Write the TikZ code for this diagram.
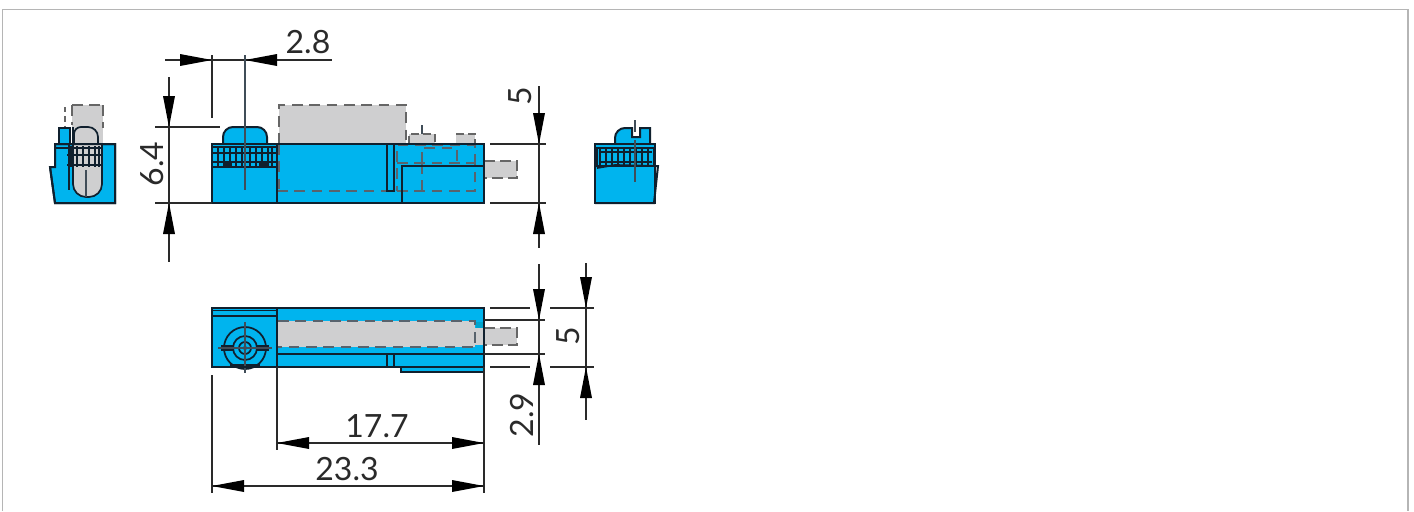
\documentclass[tikz,border=0pt]{standalone}
\usepackage{fontspec}
\setmainfont{Lato}
\definecolor{bodyblue}{HTML}{00B4EE}
\definecolor{ghost}{HTML}{CFCFD0}
\definecolor{ink}{HTML}{10202E}
\definecolor{dimink}{HTML}{2A2A2A}
\definecolor{framegray}{HTML}{B5B5B5}
\tikzset{
  body/.style={fill=bodyblue,draw=ink,line width=1.5pt,line join=miter},
  fine/.style={draw=ink,line width=0.9pt},
  part/.style={draw=ink,line width=1.3pt},
  hidden/.style={draw=ink!70!white,line width=1pt,dash pattern=on 8pt off 5pt},
  ghostfill/.style={fill=ghost,draw=none},
  ghostedge/.style={draw=black!60,line width=1.1pt,dash pattern=on 8pt off 5pt},
  dim/.style={draw=dimink,line width=0.95pt},
  center/.style={draw=ink!80!white,line width=0.85pt},
  tip/.style={fill=black,draw=none},
  dimtext/.style={font=\fontsize{24}{24}\selectfont,text=dimink,inner sep=0pt}
}
\newcommand{\tipdown}[2]{\fill[tip] (#1-6,#2-31) -- (#1+6,#2-31) -- (#1,#2) -- cycle;}
\newcommand{\tipup}[2]{\fill[tip] (#1-6,#2+31) -- (#1+6,#2+31) -- (#1,#2) -- cycle;}
\newcommand{\tipright}[2]{\fill[tip] (#1-32,#2-6) -- (#1-32,#2+6) -- (#1,#2) -- cycle;}
\newcommand{\tipleft}[2]{\fill[tip] (#1+32,#2-6) -- (#1+32,#2+6) -- (#1,#2) -- cycle;}
\begin{document}
\begin{tikzpicture}[x=0.75pt,y=-0.75pt]
\useasboundingbox (0,0) rectangle (1414,511);
\fill[white] (0,0) rectangle (1414,511);
% frame
\draw[framegray,line width=0.9pt] (2.5,511) -- (2.5,9.5) -- (1408,9.5) -- (1408,511);

% ----- left end view
\fill[ghostfill] (72,105) rectangle (103,144);
\draw[ghostedge] (72,105) -- (103,105);
\draw[ghostedge] (103,105) -- (103,128);
\draw[ghostedge] (72,105) -- (72,125);
\draw[ghostedge,dash pattern=on 4pt off 3pt] (65,107) -- (65,126);
\draw[body] (55,144) -- (115,144) -- (115,203) -- (55,203) -- (50,167) -- (55,167) -- cycle;
\draw[body] (59,144) -- (59,128) -- (70,128) -- (70,144);
\fill[ghostfill] (73,145) -- (102,145) -- (102,184) arc (0:90:13) -- (86,197) arc (90:180:13) -- cycle;
\draw[part] (73,127) -- (73,184) arc (180:90:13) -- (89,197) arc (90:0:13) -- (102,144);
\draw[part] (74,144) -- (74,134) arc (180:270:7) -- (88,127) arc (-90:0:10) -- (98,144);
\draw[part] (67,148) -- (102,148);
\draw[part] (67,155) -- (102,155);
\draw[part] (67,165) -- (102,165);
\foreach \xx in {71,77,83,89,95,99}{\draw[fine] (\xx,146) -- (\xx,167);}
\draw[part] (55,148) -- (69,148);
\draw[part] (69,144) -- (69,190);
\draw[center] (86,170) -- (86,197);
\draw[body,fill=none] (55,144) -- (115,144) -- (115,203) -- (55,203) -- (50,167);

% ----- right end view
\draw[body] (615,144) -- (615,138) arc (180:270:10) -- (632,128) -- (632,137) -- (640,137) -- (640,128) -- (650,128) -- (650,144);
\draw[body] (595,144) rectangle (655,203);
\draw[body,fill=none] (655,166) -- (658,166) -- (654,203) -- (595,203);
\draw[part] (597,148) rectangle (654,166);
\draw[part] (600,152) -- (652,152);
\draw[part] (600,162) -- (652,162);
\foreach \xx in {600,606,612,618,624,630,636,642,648}{\draw[fine] (\xx,149) -- (\xx,167);}
\draw[part] (597,168) -- (615,165) -- (658,166);
\draw[center] (635,120) -- (635,132);
\draw[center] (635,140) -- (635,182);

% ----- side view
\fill[ghostfill] (279,105) rectangle (406,144);
\draw[ghostedge] (279,144) -- (279,105) -- (406,105) -- (406,144);
\fill[ghostfill] (409,134) rectangle (435,144);
\fill[ghostfill] (456,134) rectangle (475,144);
\draw[ghostedge,dash pattern=on 6pt off 3pt] (409,144) -- (409,134) -- (435,134) -- (435,144);
\draw[ghostedge,dash pattern=on 6pt off 3pt] (456,134) -- (475,134) -- (475,144);
\draw[center] (422,125) -- (422,134);
\fill[ghostfill] (484,161) rectangle (517,178);
\draw[ghostedge,dash pattern=on 8pt off 4pt] (484,161) -- (517,161) -- (517,178) -- (484,178);
\draw[body] (223,147) -- (223,137) arc (180:270:10) -- (257,127) arc (270:360:10) -- (267,147);
\draw[body] (212,144) -- (277,144) -- (277,203) -- (212,203) -- cycle;
\draw[body] (277,144) rectangle (484,203);
\draw[part] (212,147) -- (278,147);
\draw[part] (212,167) -- (278,167);
\draw[part] (212,153) -- (278,153);
\draw[part] (212,162) -- (278,162);
\foreach \xx in {218,224,230,236,242,250,256,262,268,272}{\draw[fine] (\xx,147) -- (\xx,167);}
\fill[ink] (223,163) rectangle (232,167);
\fill[ink] (259,163) rectangle (267,167);
\draw[hidden] (277,191) -- (397,191);
\draw[hidden] (279,144) -- (279,191);
\draw[part] (387,144) rectangle (394,191);
\draw[hidden] (397,191) -- (475,191) -- (475,145) -- (397,145) -- (397,191);
\draw[hidden] (397,163) -- (475,163);
\draw[hidden] (422,163) -- (422,148) -- (457,148) -- (457,163);
\draw[hidden] (422,163) -- (422,191);
\draw[part] (402,203) -- (402,166) -- (484,166);
\draw[body,fill=none] (277,144) rectangle (484,203);
\draw[body,fill=none] (212,144) rectangle (277,203);

% ----- top view
\draw[body] (212,308) rectangle (484,367);
\fill[ghostfill] (484,328) rectangle (517,345);
\draw[ghostedge,dash pattern=on 8pt off 4pt] (484,328) -- (517,328) -- (517,345) -- (484,345);
\draw[body,line width=1.6pt] (401,367) -- (401,372) -- (484,372) -- (484,367);
\fill[ghostfill] (278,321) rectangle (475,347);
\fill[ghostfill] (475,328) rectangle (484,345);
\fill[bodyblue!70!teal] (476,322) rectangle (483,328);
\draw[hidden] (278,321) -- (475,321) -- (475,347) -- (278,347);
\draw[part] (277,354) -- (484,354);
\draw[part] (387,354) -- (387,367);
\draw[part] (394,354) -- (394,367);
\draw[part] (212,310.5) -- (277,310.5);
\draw[part,line width=1pt] (212,316) -- (277,316);
\draw[part] (277,308) -- (277,367);
\draw[part] (245,348) circle (21);
\draw[part] (245,348) circle (12);
\draw[part] (245,348) circle (6);
\draw[part] (221,346) -- (233,346);
\draw[part] (221,350) -- (233,350);
\draw[part] (257,346) -- (269,346);
\draw[part] (257,350) -- (269,350);
\draw[part,line width=1.6pt] (230,365) -- (260,365);
\fill[ink] (245,348) circle (2);
\draw[center] (218,348) -- (272,348);
\draw[center] (245,322) -- (245,373);
\draw[body,fill=none] (212,308) rectangle (484,367);

% ----- dimensions, upper view
\draw[dim] (165,60) -- (332,60);
\tipright{212}{60}
\tipleft{245}{60}
\draw[dim] (212,55) -- (212,118);
\draw[center] (245,55) -- (245,190);
\draw[dim] (169,77) -- (169,262);
\tipdown{169}{127}
\tipup{169}{203}
\draw[dim] (155,127) -- (220,127);
\draw[dim] (155,203) -- (212,203);
\draw[dim] (539,86) -- (539,248);
\tipdown{539}{144}
\tipup{539}{203}
\draw[dim] (490,144) -- (546,144);
\draw[dim] (490,203) -- (546,203);
\node[dimtext] (labA) at (308,42) {2.8};
\node[dimtext,rotate=90] (labB) at (152,164) {6.4};
\node[dimtext,rotate=90] (labC) at (520,96) {5};

% ----- dimensions, lower view
\draw[dim] (539,264) -- (539,445);
\tipdown{539}{320}
\tipup{539}{354}
\draw[dim] (586,263) -- (586,420);
\tipdown{586}{308}
\tipup{586}{367}
\draw[dim] (490,308) -- (530,308);
\draw[dim] (484,320) -- (545,320);
\draw[dim] (484,354) -- (545,354);
\draw[dim] (490,367) -- (530,367);
\draw[dim] (550,308) -- (594,308);
\draw[dim] (550,367) -- (594,367);
\draw[dim] (212,375) -- (212,493);
\draw[dim] (277,367) -- (277,450);
\draw[dim] (484,367) -- (484,493);
\draw[dim] (277,443) -- (484,443);
\tipleft{277}{443}
\tipright{484}{443}
\draw[dim] (212,486) -- (484,486);
\tipleft{212}{486}
\tipright{484}{486}
\node[dimtext,rotate=90] (labD) at (568,336) {5};
\node[dimtext,rotate=90] (labE) at (522,415) {2.9};
\node[dimtext] (labF) at (377,426) {17.7};
\node[dimtext] (labG) at (347,469) {23.3};
\end{tikzpicture}
\end{document}
